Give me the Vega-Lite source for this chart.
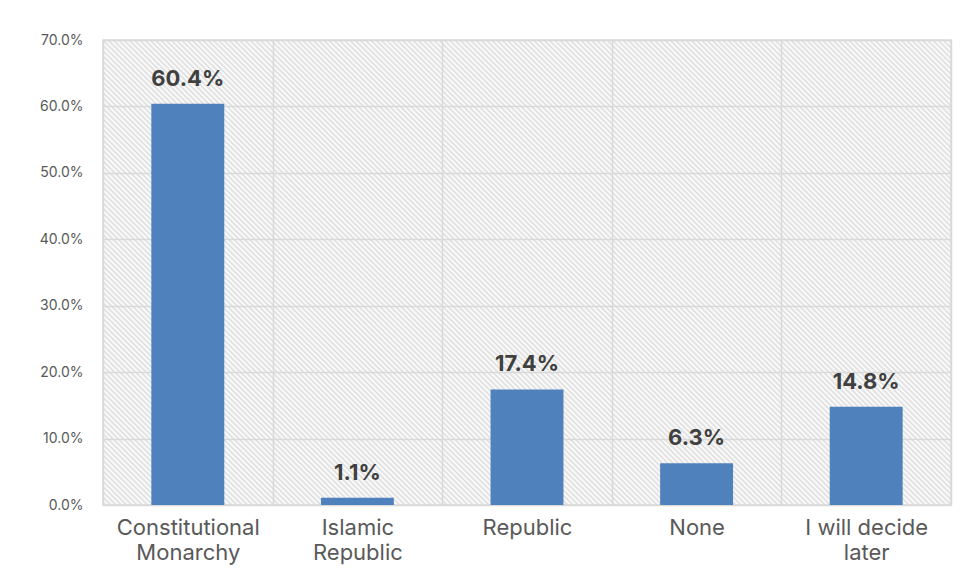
{
"$schema":"https://vega.github.io/schema/vega-lite/v6.json",
"width":848,"height":465,
"autosize":{"type":"none"},
"padding":{"left":103,"top":40,"right":17,"bottom":75},
"background":"white",
"config":{"font":"Inter","view":{"stroke":"#d9d9d9","strokeWidth":1.5,"fill":{"gradient":"linear","x1":0,"y1":1,"x2":1.1904,"y2":0.3473,"stops":[
{"offset":0,"color":"#fff"},{"offset":0.002,"color":"#ddd"},{"offset":0.004,"color":"#fff"},{"offset":0.006,"color":"#ddd"},{"offset":0.008,"color":"#fff"},{"offset":0.01,"color":"#ddd"},{"offset":0.012,"color":"#fff"},{"offset":0.014,"color":"#ddd"},{"offset":0.016,"color":"#fff"},{"offset":0.018,"color":"#ddd"},
{"offset":0.02,"color":"#fff"},{"offset":0.022,"color":"#ddd"},{"offset":0.024,"color":"#fff"},{"offset":0.026,"color":"#ddd"},{"offset":0.028,"color":"#fff"},{"offset":0.03,"color":"#ddd"},{"offset":0.032,"color":"#fff"},{"offset":0.034,"color":"#ddd"},{"offset":0.036,"color":"#fff"},{"offset":0.038,"color":"#ddd"},
{"offset":0.04,"color":"#fff"},{"offset":0.042,"color":"#ddd"},{"offset":0.044,"color":"#fff"},{"offset":0.046,"color":"#ddd"},{"offset":0.048,"color":"#fff"},{"offset":0.05,"color":"#ddd"},{"offset":0.052,"color":"#fff"},{"offset":0.054,"color":"#ddd"},{"offset":0.056,"color":"#fff"},{"offset":0.058,"color":"#ddd"},
{"offset":0.06,"color":"#fff"},{"offset":0.062,"color":"#ddd"},{"offset":0.064,"color":"#fff"},{"offset":0.066,"color":"#ddd"},{"offset":0.068,"color":"#fff"},{"offset":0.07,"color":"#ddd"},{"offset":0.072,"color":"#fff"},{"offset":0.074,"color":"#ddd"},{"offset":0.076,"color":"#fff"},{"offset":0.078,"color":"#ddd"},
{"offset":0.08,"color":"#fff"},{"offset":0.082,"color":"#ddd"},{"offset":0.084,"color":"#fff"},{"offset":0.086,"color":"#ddd"},{"offset":0.088,"color":"#fff"},{"offset":0.09,"color":"#ddd"},{"offset":0.092,"color":"#fff"},{"offset":0.094,"color":"#ddd"},{"offset":0.096,"color":"#fff"},{"offset":0.098,"color":"#ddd"},
{"offset":0.1,"color":"#fff"},{"offset":0.102,"color":"#ddd"},{"offset":0.104,"color":"#fff"},{"offset":0.106,"color":"#ddd"},{"offset":0.108,"color":"#fff"},{"offset":0.11,"color":"#ddd"},{"offset":0.112,"color":"#fff"},{"offset":0.114,"color":"#ddd"},{"offset":0.116,"color":"#fff"},{"offset":0.118,"color":"#ddd"},
{"offset":0.12,"color":"#fff"},{"offset":0.122,"color":"#ddd"},{"offset":0.124,"color":"#fff"},{"offset":0.126,"color":"#ddd"},{"offset":0.128,"color":"#fff"},{"offset":0.13,"color":"#ddd"},{"offset":0.132,"color":"#fff"},{"offset":0.134,"color":"#ddd"},{"offset":0.136,"color":"#fff"},{"offset":0.138,"color":"#ddd"},
{"offset":0.14,"color":"#fff"},{"offset":0.142,"color":"#ddd"},{"offset":0.144,"color":"#fff"},{"offset":0.146,"color":"#ddd"},{"offset":0.148,"color":"#fff"},{"offset":0.15,"color":"#ddd"},{"offset":0.152,"color":"#fff"},{"offset":0.154,"color":"#ddd"},{"offset":0.156,"color":"#fff"},{"offset":0.158,"color":"#ddd"},
{"offset":0.16,"color":"#fff"},{"offset":0.162,"color":"#ddd"},{"offset":0.164,"color":"#fff"},{"offset":0.166,"color":"#ddd"},{"offset":0.168,"color":"#fff"},{"offset":0.17,"color":"#ddd"},{"offset":0.172,"color":"#fff"},{"offset":0.174,"color":"#ddd"},{"offset":0.176,"color":"#fff"},{"offset":0.178,"color":"#ddd"},
{"offset":0.18,"color":"#fff"},{"offset":0.182,"color":"#ddd"},{"offset":0.184,"color":"#fff"},{"offset":0.186,"color":"#ddd"},{"offset":0.188,"color":"#fff"},{"offset":0.19,"color":"#ddd"},{"offset":0.192,"color":"#fff"},{"offset":0.194,"color":"#ddd"},{"offset":0.196,"color":"#fff"},{"offset":0.198,"color":"#ddd"},
{"offset":0.2,"color":"#fff"},{"offset":0.202,"color":"#ddd"},{"offset":0.204,"color":"#fff"},{"offset":0.206,"color":"#ddd"},{"offset":0.208,"color":"#fff"},{"offset":0.21,"color":"#ddd"},{"offset":0.212,"color":"#fff"},{"offset":0.214,"color":"#ddd"},{"offset":0.216,"color":"#fff"},{"offset":0.218,"color":"#ddd"},
{"offset":0.22,"color":"#fff"},{"offset":0.222,"color":"#ddd"},{"offset":0.224,"color":"#fff"},{"offset":0.226,"color":"#ddd"},{"offset":0.228,"color":"#fff"},{"offset":0.23,"color":"#ddd"},{"offset":0.232,"color":"#fff"},{"offset":0.234,"color":"#ddd"},{"offset":0.236,"color":"#fff"},{"offset":0.238,"color":"#ddd"},
{"offset":0.24,"color":"#fff"},{"offset":0.242,"color":"#ddd"},{"offset":0.244,"color":"#fff"},{"offset":0.246,"color":"#ddd"},{"offset":0.248,"color":"#fff"},{"offset":0.25,"color":"#ddd"},{"offset":0.252,"color":"#fff"},{"offset":0.254,"color":"#ddd"},{"offset":0.256,"color":"#fff"},{"offset":0.258,"color":"#ddd"},
{"offset":0.26,"color":"#fff"},{"offset":0.262,"color":"#ddd"},{"offset":0.264,"color":"#fff"},{"offset":0.266,"color":"#ddd"},{"offset":0.268,"color":"#fff"},{"offset":0.27,"color":"#ddd"},{"offset":0.272,"color":"#fff"},{"offset":0.274,"color":"#ddd"},{"offset":0.276,"color":"#fff"},{"offset":0.278,"color":"#ddd"},
{"offset":0.28,"color":"#fff"},{"offset":0.282,"color":"#ddd"},{"offset":0.284,"color":"#fff"},{"offset":0.286,"color":"#ddd"},{"offset":0.288,"color":"#fff"},{"offset":0.29,"color":"#ddd"},{"offset":0.292,"color":"#fff"},{"offset":0.294,"color":"#ddd"},{"offset":0.296,"color":"#fff"},{"offset":0.298,"color":"#ddd"},
{"offset":0.3,"color":"#fff"},{"offset":0.302,"color":"#ddd"},{"offset":0.304,"color":"#fff"},{"offset":0.306,"color":"#ddd"},{"offset":0.308,"color":"#fff"},{"offset":0.31,"color":"#ddd"},{"offset":0.312,"color":"#fff"},{"offset":0.314,"color":"#ddd"},{"offset":0.316,"color":"#fff"},{"offset":0.318,"color":"#ddd"},
{"offset":0.32,"color":"#fff"},{"offset":0.322,"color":"#ddd"},{"offset":0.324,"color":"#fff"},{"offset":0.326,"color":"#ddd"},{"offset":0.328,"color":"#fff"},{"offset":0.33,"color":"#ddd"},{"offset":0.332,"color":"#fff"},{"offset":0.334,"color":"#ddd"},{"offset":0.336,"color":"#fff"},{"offset":0.338,"color":"#ddd"},
{"offset":0.34,"color":"#fff"},{"offset":0.342,"color":"#ddd"},{"offset":0.344,"color":"#fff"},{"offset":0.346,"color":"#ddd"},{"offset":0.348,"color":"#fff"},{"offset":0.35,"color":"#ddd"},{"offset":0.352,"color":"#fff"},{"offset":0.354,"color":"#ddd"},{"offset":0.356,"color":"#fff"},{"offset":0.358,"color":"#ddd"},
{"offset":0.36,"color":"#fff"},{"offset":0.362,"color":"#ddd"},{"offset":0.364,"color":"#fff"},{"offset":0.366,"color":"#ddd"},{"offset":0.368,"color":"#fff"},{"offset":0.37,"color":"#ddd"},{"offset":0.372,"color":"#fff"},{"offset":0.374,"color":"#ddd"},{"offset":0.376,"color":"#fff"},{"offset":0.378,"color":"#ddd"},
{"offset":0.38,"color":"#fff"},{"offset":0.382,"color":"#ddd"},{"offset":0.384,"color":"#fff"},{"offset":0.386,"color":"#ddd"},{"offset":0.388,"color":"#fff"},{"offset":0.39,"color":"#ddd"},{"offset":0.392,"color":"#fff"},{"offset":0.394,"color":"#ddd"},{"offset":0.396,"color":"#fff"},{"offset":0.398,"color":"#ddd"},
{"offset":0.4,"color":"#fff"},{"offset":0.402,"color":"#ddd"},{"offset":0.404,"color":"#fff"},{"offset":0.406,"color":"#ddd"},{"offset":0.408,"color":"#fff"},{"offset":0.41,"color":"#ddd"},{"offset":0.412,"color":"#fff"},{"offset":0.414,"color":"#ddd"},{"offset":0.416,"color":"#fff"},{"offset":0.418,"color":"#ddd"},
{"offset":0.42,"color":"#fff"},{"offset":0.422,"color":"#ddd"},{"offset":0.424,"color":"#fff"},{"offset":0.426,"color":"#ddd"},{"offset":0.428,"color":"#fff"},{"offset":0.43,"color":"#ddd"},{"offset":0.432,"color":"#fff"},{"offset":0.434,"color":"#ddd"},{"offset":0.436,"color":"#fff"},{"offset":0.438,"color":"#ddd"},
{"offset":0.44,"color":"#fff"},{"offset":0.442,"color":"#ddd"},{"offset":0.444,"color":"#fff"},{"offset":0.446,"color":"#ddd"},{"offset":0.448,"color":"#fff"},{"offset":0.45,"color":"#ddd"},{"offset":0.452,"color":"#fff"},{"offset":0.454,"color":"#ddd"},{"offset":0.456,"color":"#fff"},{"offset":0.458,"color":"#ddd"},
{"offset":0.46,"color":"#fff"},{"offset":0.462,"color":"#ddd"},{"offset":0.464,"color":"#fff"},{"offset":0.466,"color":"#ddd"},{"offset":0.468,"color":"#fff"},{"offset":0.47,"color":"#ddd"},{"offset":0.472,"color":"#fff"},{"offset":0.474,"color":"#ddd"},{"offset":0.476,"color":"#fff"},{"offset":0.478,"color":"#ddd"},
{"offset":0.48,"color":"#fff"},{"offset":0.482,"color":"#ddd"},{"offset":0.484,"color":"#fff"},{"offset":0.486,"color":"#ddd"},{"offset":0.488,"color":"#fff"},{"offset":0.49,"color":"#ddd"},{"offset":0.492,"color":"#fff"},{"offset":0.494,"color":"#ddd"},{"offset":0.496,"color":"#fff"},{"offset":0.498,"color":"#ddd"},
{"offset":0.5,"color":"#fff"},{"offset":0.502,"color":"#ddd"},{"offset":0.504,"color":"#fff"},{"offset":0.506,"color":"#ddd"},{"offset":0.508,"color":"#fff"},{"offset":0.51,"color":"#ddd"},{"offset":0.512,"color":"#fff"},{"offset":0.514,"color":"#ddd"},{"offset":0.516,"color":"#fff"},{"offset":0.518,"color":"#ddd"},
{"offset":0.52,"color":"#fff"},{"offset":0.522,"color":"#ddd"},{"offset":0.524,"color":"#fff"},{"offset":0.526,"color":"#ddd"},{"offset":0.528,"color":"#fff"},{"offset":0.53,"color":"#ddd"},{"offset":0.532,"color":"#fff"},{"offset":0.534,"color":"#ddd"},{"offset":0.536,"color":"#fff"},{"offset":0.538,"color":"#ddd"},
{"offset":0.54,"color":"#fff"},{"offset":0.542,"color":"#ddd"},{"offset":0.544,"color":"#fff"},{"offset":0.546,"color":"#ddd"},{"offset":0.548,"color":"#fff"},{"offset":0.55,"color":"#ddd"},{"offset":0.552,"color":"#fff"},{"offset":0.554,"color":"#ddd"},{"offset":0.556,"color":"#fff"},{"offset":0.558,"color":"#ddd"},
{"offset":0.56,"color":"#fff"},{"offset":0.562,"color":"#ddd"},{"offset":0.564,"color":"#fff"},{"offset":0.566,"color":"#ddd"},{"offset":0.568,"color":"#fff"},{"offset":0.57,"color":"#ddd"},{"offset":0.572,"color":"#fff"},{"offset":0.574,"color":"#ddd"},{"offset":0.576,"color":"#fff"},{"offset":0.578,"color":"#ddd"},
{"offset":0.58,"color":"#fff"},{"offset":0.582,"color":"#ddd"},{"offset":0.584,"color":"#fff"},{"offset":0.586,"color":"#ddd"},{"offset":0.588,"color":"#fff"},{"offset":0.59,"color":"#ddd"},{"offset":0.592,"color":"#fff"},{"offset":0.594,"color":"#ddd"},{"offset":0.596,"color":"#fff"},{"offset":0.598,"color":"#ddd"},
{"offset":0.6,"color":"#fff"},{"offset":0.602,"color":"#ddd"},{"offset":0.604,"color":"#fff"},{"offset":0.606,"color":"#ddd"},{"offset":0.608,"color":"#fff"},{"offset":0.61,"color":"#ddd"},{"offset":0.612,"color":"#fff"},{"offset":0.614,"color":"#ddd"},{"offset":0.616,"color":"#fff"},{"offset":0.618,"color":"#ddd"},
{"offset":0.62,"color":"#fff"},{"offset":0.622,"color":"#ddd"},{"offset":0.624,"color":"#fff"},{"offset":0.626,"color":"#ddd"},{"offset":0.628,"color":"#fff"},{"offset":0.63,"color":"#ddd"},{"offset":0.632,"color":"#fff"},{"offset":0.634,"color":"#ddd"},{"offset":0.636,"color":"#fff"},{"offset":0.638,"color":"#ddd"},
{"offset":0.64,"color":"#fff"},{"offset":0.642,"color":"#ddd"},{"offset":0.644,"color":"#fff"},{"offset":0.646,"color":"#ddd"},{"offset":0.648,"color":"#fff"},{"offset":0.65,"color":"#ddd"},{"offset":0.652,"color":"#fff"},{"offset":0.654,"color":"#ddd"},{"offset":0.656,"color":"#fff"},{"offset":0.658,"color":"#ddd"},
{"offset":0.66,"color":"#fff"},{"offset":0.662,"color":"#ddd"},{"offset":0.664,"color":"#fff"},{"offset":0.666,"color":"#ddd"},{"offset":0.668,"color":"#fff"},{"offset":0.67,"color":"#ddd"},{"offset":0.672,"color":"#fff"},{"offset":0.674,"color":"#ddd"},{"offset":0.676,"color":"#fff"},{"offset":0.678,"color":"#ddd"},
{"offset":0.68,"color":"#fff"},{"offset":0.682,"color":"#ddd"},{"offset":0.684,"color":"#fff"},{"offset":0.686,"color":"#ddd"},{"offset":0.688,"color":"#fff"},{"offset":0.69,"color":"#ddd"},{"offset":0.692,"color":"#fff"},{"offset":0.694,"color":"#ddd"},{"offset":0.696,"color":"#fff"},{"offset":0.698,"color":"#ddd"},
{"offset":0.7,"color":"#fff"},{"offset":0.702,"color":"#ddd"},{"offset":0.704,"color":"#fff"},{"offset":0.706,"color":"#ddd"},{"offset":0.708,"color":"#fff"},{"offset":0.71,"color":"#ddd"},{"offset":0.712,"color":"#fff"},{"offset":0.714,"color":"#ddd"},{"offset":0.716,"color":"#fff"},{"offset":0.718,"color":"#ddd"},
{"offset":0.72,"color":"#fff"},{"offset":0.722,"color":"#ddd"},{"offset":0.724,"color":"#fff"},{"offset":0.726,"color":"#ddd"},{"offset":0.728,"color":"#fff"},{"offset":0.73,"color":"#ddd"},{"offset":0.732,"color":"#fff"},{"offset":0.734,"color":"#ddd"},{"offset":0.736,"color":"#fff"},{"offset":0.738,"color":"#ddd"},
{"offset":0.74,"color":"#fff"},{"offset":0.742,"color":"#ddd"},{"offset":0.744,"color":"#fff"},{"offset":0.746,"color":"#ddd"},{"offset":0.748,"color":"#fff"},{"offset":0.75,"color":"#ddd"},{"offset":0.752,"color":"#fff"},{"offset":0.754,"color":"#ddd"},{"offset":0.756,"color":"#fff"},{"offset":0.758,"color":"#ddd"},
{"offset":0.76,"color":"#fff"},{"offset":0.762,"color":"#ddd"},{"offset":0.764,"color":"#fff"},{"offset":0.766,"color":"#ddd"},{"offset":0.768,"color":"#fff"},{"offset":0.77,"color":"#ddd"},{"offset":0.772,"color":"#fff"},{"offset":0.774,"color":"#ddd"},{"offset":0.776,"color":"#fff"},{"offset":0.778,"color":"#ddd"},
{"offset":0.78,"color":"#fff"},{"offset":0.782,"color":"#ddd"},{"offset":0.784,"color":"#fff"},{"offset":0.786,"color":"#ddd"},{"offset":0.788,"color":"#fff"},{"offset":0.79,"color":"#ddd"},{"offset":0.792,"color":"#fff"},{"offset":0.794,"color":"#ddd"},{"offset":0.796,"color":"#fff"},{"offset":0.798,"color":"#ddd"},
{"offset":0.8,"color":"#fff"},{"offset":0.802,"color":"#ddd"},{"offset":0.804,"color":"#fff"},{"offset":0.806,"color":"#ddd"},{"offset":0.808,"color":"#fff"},{"offset":0.81,"color":"#ddd"},{"offset":0.812,"color":"#fff"},{"offset":0.814,"color":"#ddd"},{"offset":0.816,"color":"#fff"},{"offset":0.818,"color":"#ddd"},
{"offset":0.82,"color":"#fff"},{"offset":0.822,"color":"#ddd"},{"offset":0.824,"color":"#fff"},{"offset":0.826,"color":"#ddd"},{"offset":0.828,"color":"#fff"},{"offset":0.83,"color":"#ddd"},{"offset":0.832,"color":"#fff"},{"offset":0.834,"color":"#ddd"},{"offset":0.836,"color":"#fff"},{"offset":0.838,"color":"#ddd"},
{"offset":0.84,"color":"#fff"},{"offset":0.842,"color":"#ddd"},{"offset":0.844,"color":"#fff"},{"offset":0.846,"color":"#ddd"},{"offset":0.848,"color":"#fff"},{"offset":0.85,"color":"#ddd"},{"offset":0.852,"color":"#fff"},{"offset":0.854,"color":"#ddd"},{"offset":0.856,"color":"#fff"},{"offset":0.858,"color":"#ddd"},
{"offset":0.86,"color":"#fff"},{"offset":0.862,"color":"#ddd"},{"offset":0.864,"color":"#fff"},{"offset":0.866,"color":"#ddd"},{"offset":0.868,"color":"#fff"},{"offset":0.87,"color":"#ddd"},{"offset":0.872,"color":"#fff"},{"offset":0.874,"color":"#ddd"},{"offset":0.876,"color":"#fff"},{"offset":0.878,"color":"#ddd"},
{"offset":0.88,"color":"#fff"},{"offset":0.882,"color":"#ddd"},{"offset":0.884,"color":"#fff"},{"offset":0.886,"color":"#ddd"},{"offset":0.888,"color":"#fff"},{"offset":0.89,"color":"#ddd"},{"offset":0.892,"color":"#fff"},{"offset":0.894,"color":"#ddd"},{"offset":0.896,"color":"#fff"},{"offset":0.898,"color":"#ddd"},
{"offset":0.9,"color":"#fff"},{"offset":0.902,"color":"#ddd"},{"offset":0.904,"color":"#fff"},{"offset":0.906,"color":"#ddd"},{"offset":0.908,"color":"#fff"},{"offset":0.91,"color":"#ddd"},{"offset":0.912,"color":"#fff"},{"offset":0.914,"color":"#ddd"},{"offset":0.916,"color":"#fff"},{"offset":0.918,"color":"#ddd"},
{"offset":0.92,"color":"#fff"},{"offset":0.922,"color":"#ddd"},{"offset":0.924,"color":"#fff"},{"offset":0.926,"color":"#ddd"},{"offset":0.928,"color":"#fff"},{"offset":0.93,"color":"#ddd"},{"offset":0.932,"color":"#fff"},{"offset":0.934,"color":"#ddd"},{"offset":0.936,"color":"#fff"},{"offset":0.938,"color":"#ddd"},
{"offset":0.94,"color":"#fff"},{"offset":0.942,"color":"#ddd"},{"offset":0.944,"color":"#fff"},{"offset":0.946,"color":"#ddd"},{"offset":0.948,"color":"#fff"},{"offset":0.95,"color":"#ddd"},{"offset":0.952,"color":"#fff"},{"offset":0.954,"color":"#ddd"},{"offset":0.956,"color":"#fff"},{"offset":0.958,"color":"#ddd"},
{"offset":0.96,"color":"#fff"},{"offset":0.962,"color":"#ddd"},{"offset":0.964,"color":"#fff"},{"offset":0.966,"color":"#ddd"},{"offset":0.968,"color":"#fff"},{"offset":0.97,"color":"#ddd"},{"offset":0.972,"color":"#fff"},{"offset":0.974,"color":"#ddd"},{"offset":0.976,"color":"#fff"},{"offset":0.978,"color":"#ddd"},
{"offset":0.98,"color":"#fff"},{"offset":0.982,"color":"#ddd"},{"offset":0.984,"color":"#fff"},{"offset":0.986,"color":"#ddd"},{"offset":0.988,"color":"#fff"},{"offset":0.99,"color":"#ddd"},{"offset":0.992,"color":"#fff"},{"offset":0.994,"color":"#ddd"},{"offset":0.996,"color":"#fff"},{"offset":0.998,"color":"#ddd"},
{"offset":1,"color":"#fff"}
]}}},
"data":{"values":[
{"option":"Constitutional Monarchy","share":0.604},
{"option":"Islamic Republic","share":0.011},
{"option":"Republic","share":0.174},
{"option":"None","share":0.063},
{"option":"I will decide later","share":0.148}
]},
"encoding":{
"x":{"field":"option","type":"nominal","sort":null,
"scale":{"paddingInner":0,"paddingOuter":0},
"axis":{"title":null,"grid":true,"tickBand":"extent","gridColor":"#d9d9d9","gridWidth":1.5,"domain":false,"ticks":false,"labelAngle":0,"labelFont":"Inter","labelFontSize":22,"labelColor":"#595959","labelPadding":12,"labelLineHeight":25,"labelBaseline":"top",
"labelExpr":"datum.label == 'Constitutional Monarchy' ? ['Constitutional','Monarchy'] : datum.label == 'Islamic Republic' ? ['Islamic','Republic'] : datum.label == 'I will decide later' ? ['I will decide','later'] : datum.label"}},
"y":{"field":"share","type":"quantitative","scale":{"domain":[0,0.7],"nice":false},
"axis":{"title":null,"format":".1%","values":[0,0.1,0.2,0.3,0.4,0.5,0.6,0.7],"grid":true,"gridColor":"#d9d9d9","gridWidth":1.5,"domain":false,"ticks":false,"labelFont":"Inter","labelFontSize":14,"labelColor":"#595959","labelPadding":20}}
},
"layer":[
{"mark":{"type":"bar","color":"#4f81bd","width":{"band":0.43}}},
{"mark":{"type":"text","font":"Inter","fontSize":22,"fontWeight":"bold","color":"#404040","baseline":"alphabetic","dy":-18},
"encoding":{"text":{"field":"share","type":"quantitative","format":".1%"}}}
]
}
